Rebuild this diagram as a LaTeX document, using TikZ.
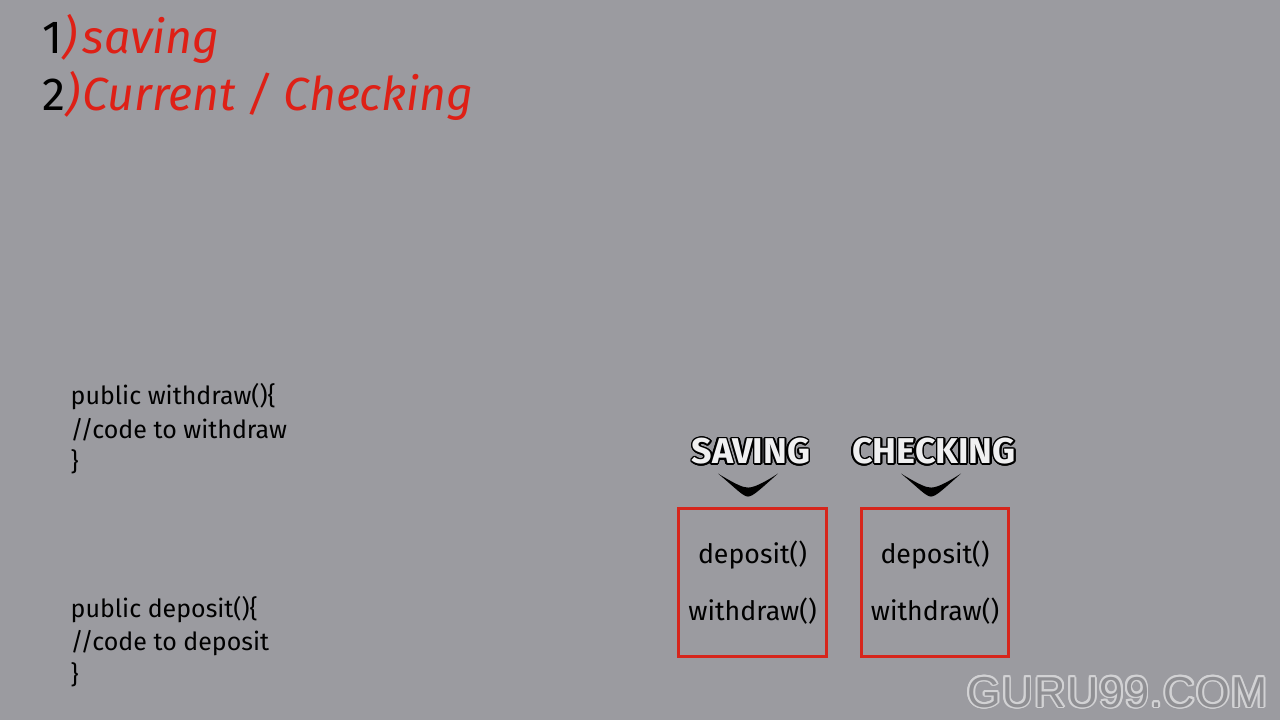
\documentclass[tikz,border=0pt]{standalone}
\usepackage{fontspec}
\setmainfont{Fira Sans}
\newfontfamily\gurufont[LetterSpace=3]{Liberation Sans}
\usepackage[copies]{contour}
\usepackage{tikz}

\definecolor{bg}{RGB}{155,155,160}
\definecolor{redtxt}{RGB}{222,32,22}
\definecolor{redbox}{RGB}{214,38,28}

\tikzset{
  title/.style={anchor=base west, inner sep=0pt, text=redtxt, font=\fontsize{13.2}{15}\itshape\selectfont},
  codeline/.style={anchor=base west, inner sep=0pt, font=\fontsize{7.1}{9}\selectfont},
  account/.style={draw=redbox, line width=0.85pt, inner sep=1pt, minimum width=1.47cm, minimum height=1.47cm, align=center, font=\fontsize{7.6}{16}\selectfont},
  tag/.style={inner sep=0pt, font=\fontsize{10.2}{12}\bfseries\selectfont},
}

\begin{document}
\begin{tikzpicture}[x=0.01cm, y=-0.01cm]
\fill[bg] (0,0) rectangle (1280,720);

% list of account types
\node (n1) [title] at (42,53) {\textcolor{black}{\upshape 1})};
\node (t1) [title] at (82,53) {saving};
\node (n2) [title] at (42,110) {\textcolor{black}{\upshape 2})};
\node (t2) [title] at (82,110) {Current / Checking};

% methods
\node (w1) [codeline] at (70,404) {public withdraw()\{};
\node (w2) [codeline] at (70,438) {//code to withdraw};
\node (w3) [codeline] at (70,470) {\}};
\node (d1) [codeline] at (70,617) {public deposit()\{};
\node (d2) [codeline] at (70,650) {//code to deposit};
\node (d3) [codeline] at (70,683) {\}};

% classes
\node (sav) [account] at (752.5,582.5) {deposit()\\withdraw()};
\node (chk) [account] at (935,582.5) {deposit()\\withdraw()};
\node (lsav) [tag] at (751,452) {\contourlength{0.45pt}\contour{black}{\textcolor{white!85!bg}{SAVING}}};
\node (lchk) [tag] at (934,452) {\contourlength{0.45pt}\contour{black}{\textcolor{white!85!bg}{CHECKING}}};

\begin{scope}[shift={(lsav.south)}]
\fill (-33,7) .. controls (-15,22) and (-8,30) .. (-3,30) .. controls (2,30) and (10,22) .. (27,7) .. controls (10,18) and (2,21) .. (-3,21) .. controls (-8,21) and (-15,18) .. cycle;
\end{scope}
\begin{scope}[shift={(lchk.south)}]
\fill (-33,7) .. controls (-15,22) and (-8,30) .. (-3,30) .. controls (2,30) and (10,22) .. (27,7) .. controls (10,18) and (2,21) .. (-3,21) .. controls (-8,21) and (-15,18) .. cycle;
\end{scope}

\node (guru) [anchor=base east, inner sep=0pt, font=\gurufont\fontsize{12.3}{14}\selectfont] at (1268,707) {\contourlength{0.5pt}\contour{white!55!bg}{\textcolor{bg!92!black}{GURU99.COM}}};
\end{tikzpicture}
\end{document}
